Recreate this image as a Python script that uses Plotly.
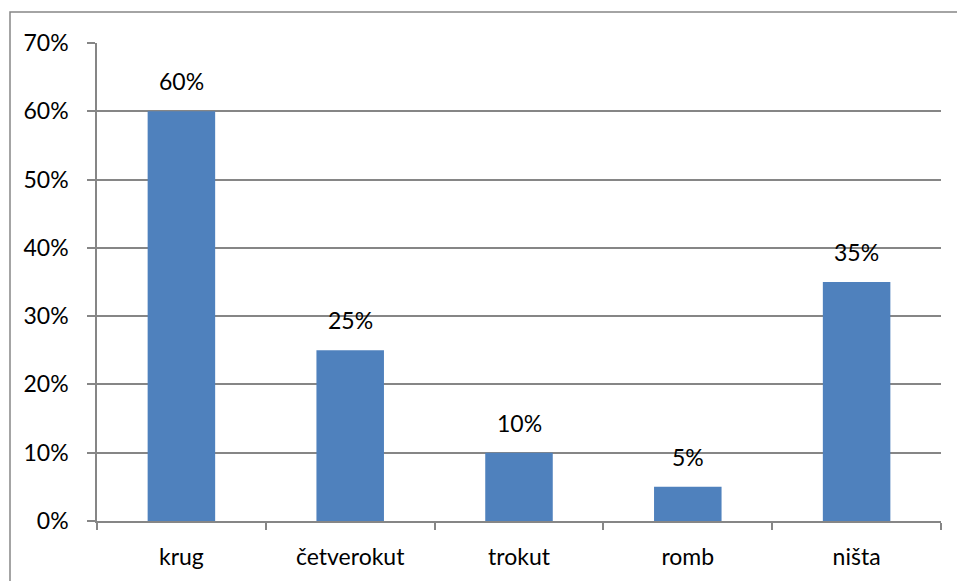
import plotly.graph_objects as go

categories = ["krug", "četverokut", "trokut", "romb", "ništa"]
shares = [0.60, 0.25, 0.10, 0.05, 0.35]
y_ticks = [0, 0.1, 0.2, 0.3, 0.4, 0.5, 0.6, 0.7]

BAR_COLOR = "#4F81BD"
GRID_COLOR = "#868686"
FONT = dict(family="Lato, Open Sans, sans-serif", size=23, color="#000000")

fig = go.Figure(
    go.Bar(
        x=categories,
        y=shares,
        marker=dict(color=BAR_COLOR, line=dict(width=0)),
        width=0.4,
        hoverinfo="skip",
    )
)

for cat, val in zip(categories, shares):
    fig.add_annotation(
        x=cat, y=val, text=f"{val:.0%}", showarrow=False,
        yanchor="bottom", yshift=14, font=FONT,
    )

# outer chart frame
fig.add_shape(
    type="rect", xref="paper", yref="paper",
    x0=(10 - 97) / 844, x1=1 + 30 / 844,
    y0=-80 / 478, y1=1 + 31 / 478,
    line=dict(color=GRID_COLOR, width=1.5), layer="below",
)

fig.update_layout(
    width=957,
    height=581,
    margin=dict(l=97, r=16, t=43, b=60),
    paper_bgcolor="white",
    plot_bgcolor="white",
    font=FONT,
    showlegend=False,
)
fig.update_xaxes(
    showline=True, linecolor=GRID_COLOR, linewidth=1.5,
    ticks="outside", tickson="boundaries", ticklen=7, tickcolor=GRID_COLOR,
    tickwidth=1.5, showgrid=False, ticklabelstandoff=15,
)
fig.update_yaxes(
    range=[0, 0.7], tickvals=y_ticks, tickformat=".0%",
    showline=True, linecolor=GRID_COLOR, linewidth=1.5,
    ticks="outside", ticklen=8, tickcolor=GRID_COLOR, tickwidth=1.5,
    showgrid=True, gridcolor=GRID_COLOR, gridwidth=1.5,
    zeroline=False, ticklabelstandoff=14,
)

fig.write_html(
    "out.html",
    config={"displayModeBar": False},
    post_script="document.body.style.margin='0';document.body.style.overflow='hidden';",
)
